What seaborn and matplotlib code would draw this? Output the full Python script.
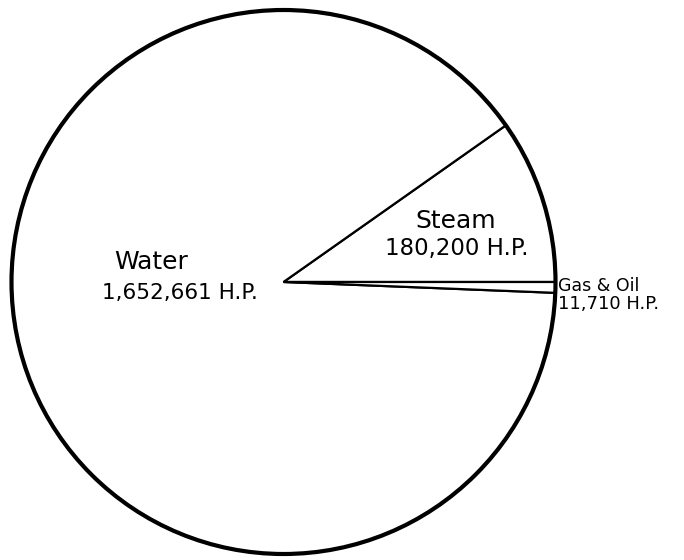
import matplotlib
matplotlib.use("Agg")
import matplotlib.pyplot as plt
from matplotlib.patches import Circle
import seaborn as sns

sns.set_theme(style="white")
plt.rcParams['font.family'] = ['DejaVu Sans']

# Data
sources = ["Steam", "Water", "Gas & Oil"]
horsepower = [180200, 1652661, 11710]

fig = plt.figure(figsize=(6.84, 5.6), dpi=100)
ax = fig.add_axes([0, 0, 1, 1])
ax.pie(horsepower, startangle=0, counterclock=True, radius=1.0,
       colors=["white"] * len(horsepower),
       wedgeprops=dict(edgecolor="black", linewidth=1.6))
ax.add_patch(Circle((0, 0), 1.0, fill=False, edgecolor="black", linewidth=3.0))

s = 272.0
def px(x, y):
    return ((x - 283.5) / s, ((560 - y) - 278) / s)

lab = {name: f"{v:,} H.P." for name, v in zip(sources, horsepower)}

ax.text(*px(151, 262), "Water", ha="center", va="center", fontsize=18, color="black")
ax.text(*px(180, 293), lab["Water"], ha="center", va="center", fontsize=15.5, color="black")
ax.text(*px(456, 221), "Steam", ha="center", va="center", fontsize=18, color="black")
ax.text(*px(457, 248), lab["Steam"], ha="center", va="center", fontsize=16.5, color="black")
ax.text(*px(558, 291), "Gas & Oil", ha="left", va="baseline", fontsize=12.5, color="black")
ax.text(*px(558, 309), lab["Gas & Oil"], ha="left", va="baseline", fontsize=13, color="black")

ax.set_xlim(-283.5 / s, (684 - 283.5) / s)
ax.set_ylim(-278 / s, (560 - 278) / s)
ax.set_aspect("equal")
ax.axis("off")
fig.savefig("out.png", dpi=100, facecolor="white")
